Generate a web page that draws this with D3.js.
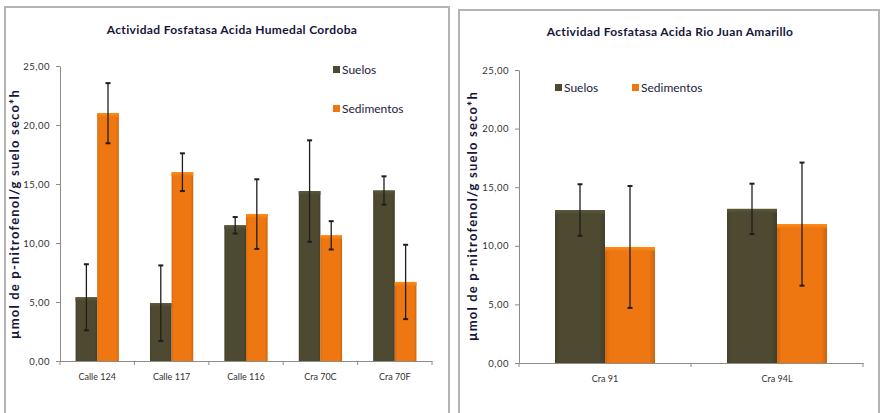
<!DOCTYPE html>
<html>
<head>
<meta charset="utf-8">
<script src="https://cdn.jsdelivr.net/npm/d3@7"></script>
<style>
  html, body { margin: 0; padding: 0; background: #fff; }
  svg { display: block; font-family: Lato, "Open Sans", sans-serif; }
</style>
</head>
<body>
<svg id="chart" width="880" height="413"></svg>
<script>
// Acid phosphatase activity, means with standard deviation
const seriesNames = ["Suelos", "Sedimentos"];

const cordobaCategories = ["Calle 124", "Calle 117", "Calle 116", "Cra 70C", "Cra 70F"];
const cordobaSuelos = [5.4, 4.9, 11.5, 14.4, 14.45];
const cordobaSuelosErr = [2.8, 3.2, 0.7, 4.3, 1.2];
const cordobaSedimentos = [21.0, 16.0, 12.45, 10.65, 6.7];
const cordobaSedimentosErr = [2.55, 1.6, 2.95, 1.2, 3.15];

const juanCategories = ["Cra 91", "Cra 94L"];
const juanSuelos = [13.05, 13.15];
const juanSuelosErr = [2.2, 2.15];
const juanSedimentos = [9.9, 11.85];
const juanSedimentosErr = [5.2, 5.25];

const yTicks = [0, 5, 10, 15, 20, 25];
const yLabel = "µmol de p-nitrofenol/g suelo seco*h";

const colors = { Suelos: "#4e4a32", Sedimentos: "#ef7712" };
const fmt = v => v.toFixed(2).replace(".", ",");

const svg = d3.select("#chart");
const defs = svg.append("defs");

// bevel-like shading for the bars
function barGradient(id, base) {
  const c = d3.color(base);
  const g = defs.append("linearGradient").attr("id", id)
    .attr("x1", 0).attr("x2", 1).attr("y1", 0).attr("y2", 0);
  g.append("stop").attr("offset", "0%").attr("stop-color", c.darker(0.35));
  g.append("stop").attr("offset", "10%").attr("stop-color", c);
  g.append("stop").attr("offset", "88%").attr("stop-color", c);
  g.append("stop").attr("offset", "100%").attr("stop-color", c.darker(0.5));
  const t = defs.append("linearGradient").attr("id", id + "-top")
    .attr("x1", 0).attr("x2", 0).attr("y1", 0).attr("y2", 1);
  t.append("stop").attr("offset", "0%").attr("stop-color", c.brighter(0.5));
  t.append("stop").attr("offset", "100%").attr("stop-color", c);
}
barGradient("g-Suelos", colors.Suelos);
barGradient("g-Sedimentos", colors.Sedimentos);

function drawPanel(p) {
  const g = svg.append("g");

  // panel frame
  g.append("rect")
    .attr("x", p.frame[0]).attr("y", p.frame[1])
    .attr("width", p.frame[2]).attr("height", p.frame[3])
    .attr("fill", "#fff").attr("stroke", "#b4b4b4").attr("stroke-width", 2);

  const x0 = d3.scaleBand().domain(p.categories).range([p.left, p.right]).padding(0);
  const x1 = d3.scaleBand().domain(seriesNames).range([0, x0.bandwidth()])
    .paddingInner(0).paddingOuter(0.72);
  const y = d3.scaleLinear().domain([0, 25]).range([p.bottom, p.top]);

  // title
  g.append("text")
    .attr("x", p.titleX).attr("y", p.titleY)
    .attr("text-anchor", "middle")
    .attr("font-size", 12).attr("font-weight", "bold").attr("fill", "#16163a")
    .attr("letter-spacing", 0.35)
    .text(p.title);

  // y axis
  const yAxis = g.append("g").attr("transform", `translate(${p.left},0)`)
    .call(d3.axisLeft(y).tickValues(yTicks).tickFormat(fmt).tickSize(4).tickSizeOuter(0));
  yAxis.select(".domain").attr("stroke", "#8c8c8c");
  yAxis.selectAll(".tick line").attr("stroke", "#8c8c8c");
  yAxis.selectAll(".tick text").attr("font-size", 9.5).attr("fill", "#333").attr("dx", -3)
    .attr("letter-spacing", 0.5)
    .attr("font-family", "Lato, sans-serif");

  // x axis with ticks on category boundaries
  const xAxis = g.append("g").attr("transform", `translate(0,${p.bottom})`)
    .call(d3.axisBottom(x0).tickSize(0).tickSizeOuter(0));
  xAxis.select(".domain").attr("stroke", "#8c8c8c");
  xAxis.selectAll(".tick text").attr("font-size", 9).attr("fill", "#333").attr("dy", 16)
    .attr("font-family", "Lato, sans-serif");
  const bounds = p.categories.map(c => x0(c)).concat([x0(p.categories[p.categories.length - 1]) + x0.bandwidth()]);
  xAxis.selectAll(".bound").data(bounds).join("line").attr("class", "bound")
    .attr("x1", d => d).attr("x2", d => d).attr("y1", 0).attr("y2", 4)
    .attr("stroke", "#8c8c8c");

  // y label
  g.append("text")
    .attr("transform", `translate(${p.yLabelX},${p.yLabelY}) rotate(-90)`)
    .attr("text-anchor", "middle")
    .attr("font-size", 13).attr("font-weight", "bold").attr("fill", "#16163a")
    .attr("letter-spacing", 1.2)
    .text(yLabel);

  // bars
  const rows = [];
  p.categories.forEach((c, i) => {
    seriesNames.forEach(s => {
      rows.push({ cat: c, series: s, value: p.values[s][i], err: p.errors[s][i] });
    });
  });

  const bars = g.append("g").selectAll("g").data(rows).join("g")
    .attr("transform", d => `translate(${x0(d.cat) + x1(d.series)},0)`);
  bars.append("rect")
    .attr("x", 0).attr("width", x1.bandwidth())
    .attr("y", d => y(d.value)).attr("height", d => y(0) - y(d.value))
    .attr("fill", d => `url(#g-${d.series})`);
  bars.append("rect")
    .attr("x", 0).attr("width", x1.bandwidth())
    .attr("y", d => y(d.value)).attr("height", 4)
    .attr("fill", d => `url(#g-${d.series}-top)`);

  // error bars
  const cx = x1.bandwidth() / 2;
  bars.append("line")
    .attr("x1", cx).attr("x2", cx)
    .attr("y1", d => y(d.value + d.err)).attr("y2", d => y(d.value - d.err))
    .attr("stroke", "#1e1e1e").attr("stroke-width", 1.3);
  bars.selectAll("line.cap").data(d => [d.value + d.err, d.value - d.err]).join("line")
    .attr("class", "cap")
    .attr("x1", cx - 2.5).attr("x2", cx + 2.5)
    .attr("y1", v => y(v)).attr("y2", v => y(v))
    .attr("stroke", "#1e1e1e").attr("stroke-width", 2);

  // legend
  const leg = g.append("g").selectAll("g").data(seriesNames).join("g")
    .attr("transform", (d, i) => `translate(${p.legend[i][0]},${p.legend[i][1]})`);
  leg.append("rect").attr("x", 0).attr("y", -4).attr("width", 7).attr("height", 7)
    .attr("fill", d => colors[d]);
  leg.append("text").attr("x", 9).attr("y", 0).attr("dy", "0.35em")
    .attr("font-size", 12).attr("fill", "#1c1c40").text(d => d);
}

drawPanel({
  frame: [5, 7, 444, 420],
  left: 60, right: 432, top: 66, bottom: 361,
  title: "Actividad Fosfatasa Acida Humedal Cordoba", titleX: 232, titleY: 34,
  categories: cordobaCategories,
  values: { Suelos: cordobaSuelos, Sedimentos: cordobaSedimentos },
  errors: { Suelos: cordobaSuelosErr, Sedimentos: cordobaSedimentosErr },
  yLabelX: 19, yLabelY: 214,
  legend: [[333, 70], [333, 109]]
});

drawPanel({
  frame: [459, 10, 420, 420],
  left: 519, right: 863, top: 70, bottom: 363,
  title: "Actividad Fosfatasa Acida Rio Juan Amarillo", titleX: 670, titleY: 36,
  categories: juanCategories,
  values: { Suelos: juanSuelos, Sedimentos: juanSedimentos },
  errors: { Suelos: juanSuelosErr, Sedimentos: juanSedimentosErr },
  yLabelX: 477, yLabelY: 216,
  legend: [[555, 88], [632, 88]]
});
</script>
</body>
</html>
